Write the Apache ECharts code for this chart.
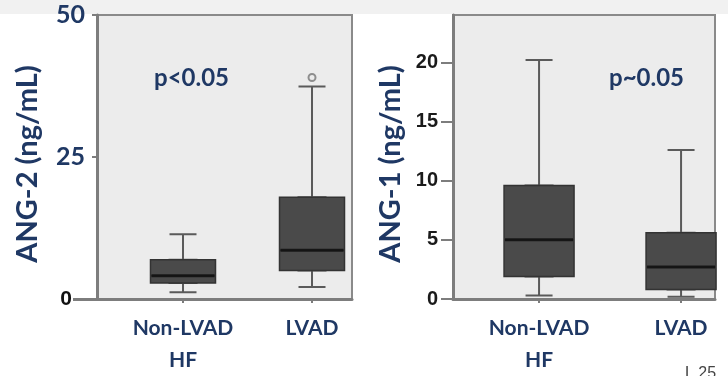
<!DOCTYPE html>
<html><head><meta charset="utf-8">
<script src="https://cdn.jsdelivr.net/npm/echarts@6/dist/echarts.min.js"></script>
<style>html,body{margin:0;padding:0;background:#fff}#c{width:728px;height:376px}</style>
</head><body><div id="c"></div>
<script>
// ---- data ----
var categories = ['Non-LVAD\nHF', 'LVAD'];
// [min, Q1, median, Q3, max]
var ang2NonLvad = [1.2, 2.8, 4.1, 6.9, 11.4];
var ang2Lvad = [2.1, 5.0, 8.6, 17.9, 37.4];
var ang2Outliers = [[2, 39]];
var ang1NonLvad = [0.3, 1.9, 5.0, 9.6, 20.2];
var ang1Lvad = [0.2, 0.8, 2.7, 5.6, 12.6];
var ang2Ticks = [25, 50];
var ang1Ticks = [0, 5, 10, 15, 20];
var pText2 = 'p<0.05';
var pText1 = 'p~0.05';

var navy = '#1f3864';
var font = 'Lato, "Open Sans", sans-serif';

function whiskerData(a, b) { return [[1].concat(a), [2].concat(b)]; }
function boxData(a, b) { return [[1, a[1], a[1], a[2], a[3], a[3]], [2, b[1], b[1], b[2], b[3], b[3]]]; }
function medData(a, b) { return [[1, a[2]], [2, b[2]]]; }

function xAx(gi, min, max, show) {
  return {
    type: 'value', gridIndex: gi, min: min, max: max, show: show,
    splitLine: { show: false },
    axisLine: { show: true, onZero: false, lineStyle: { color: '#7d7d7d', width: 3 } },
    axisTick: { show: true, customValues: [1, 2], length: 4, lineStyle: { color: '#7d7d7d', width: 2 } },
    axisLabel: {
      customValues: [1, 2], margin: 13, color: navy, fontFamily: font, fontWeight: 'bold', fontSize: 21, lineHeight: 32,
      formatter: function (v) { return categories[Math.round(v) - 1] || ''; }
    }
  };
}

var option = {
  animation: false,
  backgroundColor: '#ffffff',
  graphic: [
    { type: 'rect', shape: { x: 0, y: 0, width: 728, height: 14 }, style: { fill: '#f1f1f1' }, z: -10 },
    { type: 'text', left: 685, top: 366, style: { text: 'L 25', fill: '#444', font: '16px "Liberation Sans", Arial, sans-serif' } }
  ],
  title: [
    { text: pText2, left: 149, top: 61, textStyle: { color: navy, fontFamily: font, fontWeight: 'bold', fontSize: 24 } },
    { text: pText1, left: 604, top: 61, textStyle: { color: navy, fontFamily: font, fontWeight: 'bold', fontSize: 24 } }
  ],
  grid: [
    { left: 97, right: 376, top: 15, bottom: 71, show: true, backgroundColor: '#ececec', borderColor: '#8a8a8a', borderWidth: 2 },
    { left: 453, right: 13, top: 15, bottom: 68, show: true, backgroundColor: '#ececec', borderColor: '#8a8a8a', borderWidth: 2 }
  ],
  xAxis: [
    xAx(0, 0.3333, 2.31, true),
    xAx(0, 0.3333, 2.31, false),
    xAx(1, 0.394, 2.239, true),
    xAx(1, 0.394, 2.239, false)
  ],
  yAxis: [
    {
      type: 'value', gridIndex: 0, min: 0, max: 50, position: 'left',
      name: 'ANG-2 (ng/mL)', nameLocation: 'middle', nameGap: 55, nameRotate: 90,
      nameTextStyle: { color: navy, fontFamily: font, fontWeight: 'bold', fontSize: 29, padding: [0, 14, 0, 0] },
      splitLine: { show: false },
      axisLine: { show: true, lineStyle: { color: '#7d7d7d', width: 3 } },
      axisTick: { show: true, customValues: ang2Ticks, length: 5, lineStyle: { color: '#7d7d7d', width: 2 } },
      axisLabel: { customValues: ang2Ticks, margin: 12, color: navy, fontFamily: font, fontWeight: 'bold', fontSize: 25 }
    },
    {
      type: 'value', gridIndex: 0, min: 0, max: 50, position: 'left',
      splitLine: { show: false },
      axisLine: { show: false },
      axisTick: { show: true, customValues: [0], length: 24, lineStyle: { color: '#7d7d7d', width: 3 } },
      axisLabel: { customValues: [0], margin: 25, color: '#111', fontFamily: '"Liberation Sans", Arial, sans-serif', fontWeight: 'bold', fontSize: 21 }
    },
    {
      type: 'value', gridIndex: 1, min: 0, max: 24, position: 'left',
      name: 'ANG-1 (ng/mL)', nameLocation: 'middle', nameGap: 48, nameRotate: 90,
      nameTextStyle: { color: navy, fontFamily: font, fontWeight: 'bold', fontSize: 29, padding: [0, 14, 0, 0] },
      splitLine: { show: false },
      axisLine: { show: true, lineStyle: { color: '#7d7d7d', width: 3 } },
      axisTick: { show: true, customValues: ang1Ticks, length: 12, lineStyle: { color: '#7d7d7d', width: 2 } },
      axisLabel: { customValues: ang1Ticks, margin: 15, color: '#1a1a1a', fontFamily: '"Liberation Sans", Arial, sans-serif', fontWeight: 'bold', fontSize: 20 }
    }
  ],
  series: [
    { type: 'boxplot', xAxisIndex: 0, yAxisIndex: 0, boxWidth: [27, 27], data: whiskerData(ang2NonLvad, ang2Lvad),
      itemStyle: { color: '#4a4a4a', borderColor: '#5a5a5a', borderWidth: 2 } },
    { type: 'boxplot', xAxisIndex: 1, yAxisIndex: 0, boxWidth: [65, 65], data: boxData(ang2NonLvad, ang2Lvad),
      itemStyle: { color: '#4a4a4a', borderColor: '#333', borderWidth: 1.5 } },
    { type: 'scatter', xAxisIndex: 0, yAxisIndex: 0, symbol: 'rect', symbolSize: [63, 3], data: medData(ang2NonLvad, ang2Lvad),
      itemStyle: { color: '#0d0d0d' } },
    { type: 'scatter', xAxisIndex: 0, yAxisIndex: 0, symbol: 'circle', symbolSize: 7, data: ang2Outliers,
      itemStyle: { color: '#ececec', borderColor: '#777', borderWidth: 2 } },

    { type: 'boxplot', xAxisIndex: 2, yAxisIndex: 2, boxWidth: [27, 27], data: whiskerData(ang1NonLvad, ang1Lvad),
      itemStyle: { color: '#4a4a4a', borderColor: '#5a5a5a', borderWidth: 2 } },
    { type: 'boxplot', xAxisIndex: 3, yAxisIndex: 2, boxWidth: [70, 70], data: boxData(ang1NonLvad, ang1Lvad),
      itemStyle: { color: '#4a4a4a', borderColor: '#333', borderWidth: 1.5 } },
    { type: 'scatter', xAxisIndex: 2, yAxisIndex: 2, symbol: 'rect', symbolSize: [68, 3], data: medData(ang1NonLvad, ang1Lvad),
      itemStyle: { color: '#0d0d0d' } }
  ]
};
var chart = echarts.init(document.getElementById('c'), null, { renderer: 'canvas' });
chart.setOption(option);
</script></body></html>
